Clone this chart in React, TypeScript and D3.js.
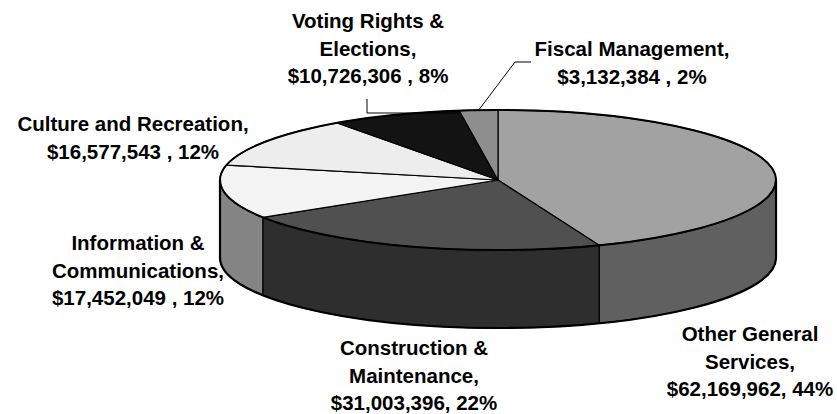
import React from "react";
import * as d3 from "d3";

const categories = [
  "Other General Services",
  "Construction & Maintenance",
  "Information & Communications",
  "Culture and Recreation",
  "Voting Rights & Elections",
  "Fiscal Management",
];
const values = [62169962, 31003396, 17452049, 16577543, 10726306, 3132384];
const labelNameLines = [
  ["Other General", "Services,"],
  ["Construction &", "Maintenance,"],
  ["Information &", "Communications,"],
  ["Culture and Recreation,"],
  ["Voting Rights &", "Elections,"],
  ["Fiscal Management,"],
];
const valueSeparators = [", ", ", ", " , ", " , ", " , ", " , "];

const topColors = ["#a2a2a2", "#505050", "#f3f3f3", "#ededed", "#131313", "#8e8e8e"];
const sideColors = ["#606060", "#2e2e2e", "#848484", "#9a9a9a", "#101010", "#555555"];

// layout
const W = 837;
const H = 414;
const cx = 498;
const cy = 180;
const rx = 278;
const ry = 70;
const depth = 78;
const FONT = "'Liberation Sans', Arial, Helvetica, sans-serif";
const FS = 20.5;

const labelPos = [
  { x: 750, y: 341 },
  { x: 414, y: 355 },
  { x: 138, y: 250 },
  { x: 133, y: 131 },
  { x: 368, y: 28 },
  { x: 632, y: 56 },
];
const lineH = 27.5;

export default function App() {
  const total = d3.sum(values);
  const pie = d3.pie<number>().sort(null).startAngle(0).endAngle(2 * Math.PI);
  const arcs = pie(values);

  const px = (t: number) => cx + rx * Math.sin(t);
  const py = (t: number) => cy - ry * Math.cos(t);
  const fmt = d3.format("$,");

  const topPath = (a0: number, a1: number) => {
    const large = a1 - a0 > Math.PI ? 1 : 0;
    return `M${cx},${cy}L${px(a0)},${py(a0)}A${rx},${ry} 0 ${large} 1 ${px(a1)},${py(a1)}Z`;
  };
  const sidePath = (a0: number, a1: number) => {
    const s = Math.max(a0, Math.PI / 2);
    const e = Math.min(a1, (3 * Math.PI) / 2);
    if (s >= e) return null;
    return `M${px(s)},${py(s)}A${rx},${ry} 0 0 1 ${px(e)},${py(e)}L${px(e)},${py(e) + depth}A${rx},${ry} 0 0 0 ${px(s)},${py(s) + depth}Z`;
  };

  const fiscal = arcs[5];
  const fMid = (fiscal.startAngle + fiscal.endAngle) / 2;

  return (
    <svg
      width={W}
      height={H}
      style={{ position: "absolute", left: 0, top: 0, background: "#fff" }}
    >
      <rect width={W} height={H} fill="#fff" />
      {arcs.map((a, i) => {
        const d = sidePath(a.startAngle, a.endAngle);
        return d ? (
          <path key={"s" + i} d={d} fill={sideColors[i]} stroke="#000" strokeWidth={1.2} strokeLinejoin="round" />
        ) : null;
      })}
      {arcs.map((a, i) => (
        <path
          key={"t" + i}
          d={topPath(a.startAngle, a.endAngle)}
          fill={topColors[i]}
          stroke="#000"
          strokeWidth={1.2}
          strokeLinejoin="round"
        />
      ))}
      {/* outer outline */}
      <ellipse cx={cx} cy={cy} rx={rx} ry={ry} fill="none" stroke="#000" strokeWidth={2} />
      <path
        d={`M${px(Math.PI / 2)},${py(Math.PI / 2)}L${px(Math.PI / 2)},${py(Math.PI / 2) + depth}A${rx},${ry} 0 0 1 ${px((3 * Math.PI) / 2)},${py((3 * Math.PI) / 2) + depth}L${px((3 * Math.PI) / 2)},${py((3 * Math.PI) / 2)}`}
        fill="none"
        stroke="#000"
        strokeWidth={2.2}
      />
      {/* leader lines */}
      <polyline points={`367,99 367,113 460,113`} fill="none" stroke="#000" strokeWidth={1} />
      <polyline
        points={`531,62 515,62 ${px(fMid)},${py(fMid)}`}
        fill="none"
        stroke="#000"
        strokeWidth={1}
      />
      {/* labels */}
      {categories.map((c, i) => {
        const pct = Math.round((values[i] / total) * 100);
        const lines = [...labelNameLines[i], `${fmt(values[i])}${valueSeparators[i]}${pct}%`];
        return (
          <text
            key={"l" + i}
            x={labelPos[i].x}
            y={labelPos[i].y}
            textAnchor="middle"
            fontFamily={FONT}
            fontWeight="bold"
            fontSize={FS}
            fill="#000"
          >
            {lines.map((ln, j) => (
              <tspan key={j} x={labelPos[i].x} dy={j === 0 ? 0 : lineH}>
                {ln}
              </tspan>
            ))}
          </text>
        );
      })}
    </svg>
  );
}
